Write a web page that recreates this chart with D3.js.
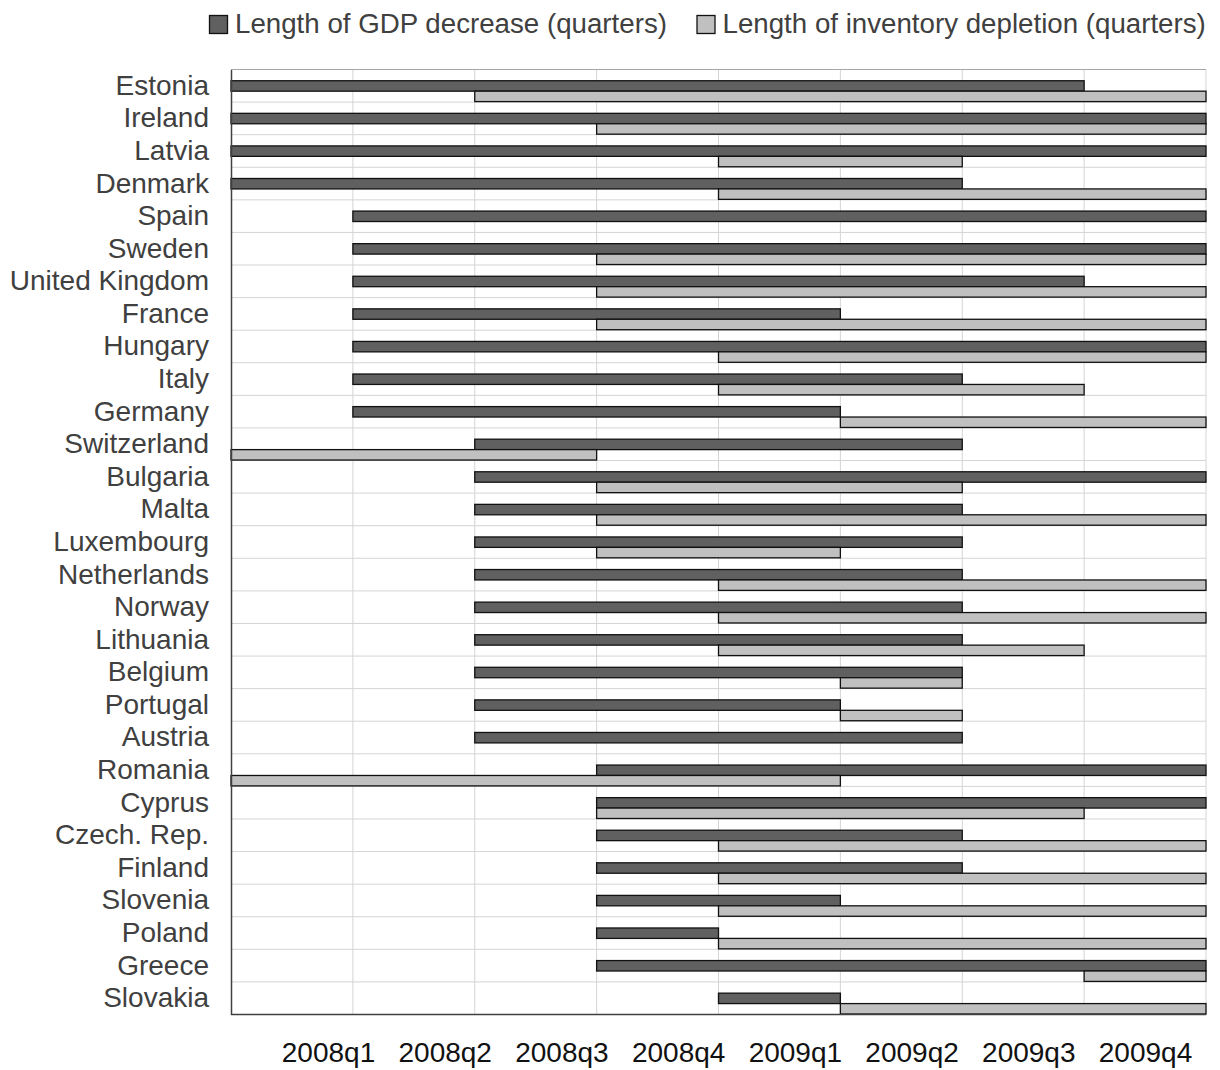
<!DOCTYPE html>
<html>
<head>
<meta charset="utf-8">
<script src="https://cdn.jsdelivr.net/npm/d3@7"></script>
<style>
  body { margin: 0; background: #fff; }
  svg { display: block; font-family: "Liberation Sans", Arial, sans-serif; }
</style>
</head>
<body>
<svg id="chart" width="1220" height="1070"></svg>
<script>
// quarters counted from the left edge of the plot (0) to the right edge (8)
var countries = ["Estonia", "Ireland", "Latvia", "Denmark", "Spain", "Sweden",
  "United Kingdom", "France", "Hungary", "Italy", "Germany", "Switzerland",
  "Bulgaria", "Malta", "Luxembourg", "Netherlands", "Norway", "Lithuania",
  "Belgium", "Portugal", "Austria", "Romania", "Cyprus", "Czech. Rep.",
  "Finland", "Slovenia", "Poland", "Greece", "Slovakia"];

var gdpStart = [0, 0, 0, 0, 1, 1, 1, 1, 1, 1, 1, 2, 2, 2, 2, 2, 2, 2, 2, 2, 2, 3, 3, 3, 3, 3, 3, 3, 4];
var gdpEnd   = [7, 8, 8, 6, 8, 8, 7, 5, 8, 6, 5, 6, 8, 6, 6, 6, 6, 6, 6, 5, 6, 8, 8, 6, 6, 5, 4, 8, 5];
var invStart = [2, 3, 4, 4, null, 3, 3, 3, 4, 4, 5, 0, 3, 3, 3, 4, 4, 4, 5, 5, null, 0, 3, 4, 4, 4, 4, 7, 5];
var invEnd   = [8, 8, 6, 8, null, 8, 8, 8, 8, 7, 8, 3, 6, 8, 5, 8, 8, 7, 6, 6, null, 5, 7, 8, 8, 8, 8, 8, 8];

var quarterLabels = ["2008q1", "2008q2", "2008q3", "2008q4", "2009q1", "2009q2", "2009q3", "2009q4"];

var seriesNames = ["Length of GDP decrease (quarters)", "Length of inventory depletion (quarters)"];
var seriesColors = ["#606060", "#c0c0c0"];

var svg = d3.select("#chart");

var plotLeft = 231, plotRight = 1206, plotTop = 69.5, plotBottom = 1014.5;

var x = d3.scaleLinear().domain([0, 8]).range([plotLeft, plotRight]);
var y = d3.scaleBand().domain(countries).range([plotTop, plotBottom]).padding(0);
var bw = y.bandwidth();

// gridlines
svg.append("g")
  .selectAll("line")
  .data(d3.range(1, 9))
  .enter()
  .append("line")
  .attr("x1", function (d) { return x(d); })
  .attr("x2", function (d) { return x(d); })
  .attr("y1", plotTop)
  .attr("y2", plotBottom)
  .attr("stroke", "#d4d4d4")
  .attr("stroke-width", 1);

svg.append("g")
  .selectAll("line")
  .data(countries.slice(1))
  .enter()
  .append("line")
  .attr("x1", plotLeft)
  .attr("x2", plotRight)
  .attr("y1", function (c) { return y(c); })
  .attr("y2", function (c) { return y(c); })
  .attr("stroke", "#d4d4d4")
  .attr("stroke-width", 1);

svg.append("line")
  .attr("x1", plotLeft).attr("x2", plotRight)
  .attr("y1", plotTop).attr("y2", plotTop)
  .attr("stroke", "#a6a6a6")
  .attr("stroke-width", 1.2);

var rows = countries.map(function (c, i) {
  return { country: c, gs: gdpStart[i], ge: gdpEnd[i], is: invStart[i], ie: invEnd[i] };
});

// GDP decrease bars
svg.append("g")
  .selectAll("rect")
  .data(rows)
  .enter()
  .append("rect")
  .attr("x", function (d) { return x(d.gs); })
  .attr("width", function (d) { return x(d.ge) - x(d.gs); })
  .attr("y", function (d) { return y(d.country) + bw * 0.345; })
  .attr("height", bw * 0.32)
  .attr("fill", seriesColors[0])
  .attr("stroke", "#111")
  .attr("stroke-width", 1.3);

// inventory depletion bars
svg.append("g")
  .selectAll("rect")
  .data(rows.filter(function (d) { return d.is !== null; }))
  .enter()
  .append("rect")
  .attr("x", function (d) { return x(d.is); })
  .attr("width", function (d) { return x(d.ie) - x(d.is); })
  .attr("y", function (d) { return y(d.country) + bw * 0.665; })
  .attr("height", bw * 0.32)
  .attr("fill", seriesColors[1])
  .attr("stroke", "#111")
  .attr("stroke-width", 1.3);

// country axis
var yAxis = svg.append("g")
  .attr("transform", "translate(" + plotLeft + ",0)")
  .call(d3.axisLeft(y).tickSize(0).tickPadding(22));
yAxis.select(".domain").attr("stroke", "#404040").attr("stroke-width", 1.5);
yAxis.selectAll("text")
  .attr("font-size", 28)
  .attr("font-family", "Liberation Sans, Arial, sans-serif")
  .attr("fill", "#404040");

// bottom axis line
svg.append("line")
  .attr("x1", plotLeft).attr("x2", plotRight)
  .attr("y1", plotBottom).attr("y2", plotBottom)
  .attr("stroke", "#404040")
  .attr("stroke-width", 1.5);

// quarter labels sit on their own even spacing
var xLabels = d3.scalePoint().domain(quarterLabels).range([328, 1145]);
var xAxis = svg.append("g")
  .attr("transform", "translate(0," + plotBottom + ")")
  .call(d3.axisBottom(xLabels).tickSize(0).tickPadding(27.5));
xAxis.select(".domain").remove();
xAxis.selectAll("text")
  .attr("font-size", 28)
  .attr("font-family", "Liberation Sans, Arial, sans-serif")
  .attr("fill", "#111");

// legend
var legendX = [209.5, 697];
var legend = svg.append("g")
  .selectAll("g")
  .data(seriesNames)
  .enter()
  .append("g")
  .attr("transform", function (d, i) { return "translate(" + legendX[i] + ",15.5)"; });

legend.append("rect")
  .attr("width", 18)
  .attr("height", 18)
  .attr("fill", function (d, i) { return seriesColors[i]; })
  .attr("stroke", "#111")
  .attr("stroke-width", 1.3);

legend.append("text")
  .attr("x", 25.5)
  .attr("y", 17)
  .attr("font-size", 27.7)
  .attr("fill", "#404040")
  .text(function (d) { return d; });
</script>
</body>
</html>
